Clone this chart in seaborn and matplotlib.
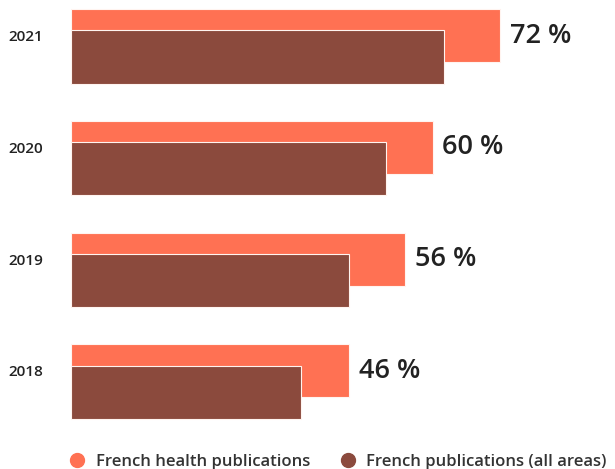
import matplotlib
matplotlib.use("Agg")
import matplotlib.pyplot as plt
import seaborn as sns
import pandas as pd
from matplotlib.lines import Line2D

years = ["2021", "2020", "2019", "2018"]
health = [72.0, 60.66, 56.0, 46.66]
all_areas = [62.55, 52.77, 46.56, 38.55]
value_labels = ["72 %", "60 %", "56 %", "46 %"]
series_names = ["French health publications", "French publications (all areas)"]
colors = ["#FF7153", "#8B4A3D"]

sns.set_theme(style="white")
plt.rcParams['font.family'] = ['Open Sans', 'DejaVu Sans']

df_h = pd.DataFrame({"year": years, "value": health})
df_a = pd.DataFrame({"year": years, "value": all_areas})

fig = plt.figure(figsize=(6.15, 4.69), dpi=100)
ax = fig.add_axes([71.3 / 615, 1 - 440 / 469, 1 - 71.3 / 615, 440 / 469])

bar_w = 0.475
shift = 0.19
sns.barplot(data=df_h, x="value", y="year", orient="h", color=colors[0],
            saturation=1, width=bar_w, edgecolor="#FFF4F0", linewidth=0.8,
            ax=ax, order=years)
n_h = len(ax.patches)
sns.barplot(data=df_a, x="value", y="year", orient="h", color=colors[1],
            saturation=1, width=bar_w, edgecolor="#FFF4F0", linewidth=0.8,
            ax=ax, order=years)
for p in ax.patches[n_h:]:
    p.set_y(p.get_y() + shift)

for i, (v, lab) in enumerate(zip(health, value_labels)):
    ax.annotate(lab, xy=(v, i), xytext=(7, 0), textcoords="offset points",
                ha="left", va="center", fontsize=19.5, fontweight="semibold",
                color="#222222")

ax.set_xlim(0, (615 - 71.3) / 5.958)
ax.set_ylim(-0.3205 + 440 / 111.7, -0.3205)
ax.set_xlabel("")
ax.set_ylabel("")
ax.set_xticks([])
ax.tick_params(axis="y", length=0, pad=20)
for t in ax.get_yticklabels():
    t.set_fontsize(11)
    t.set_fontweight("semibold")
    t.set_color("#222222")
for s in ax.spines.values():
    s.set_visible(False)

handles = [Line2D([0], [0], marker="o", linestyle="", markersize=10,
                  markerfacecolor=c, markeredgecolor=c) for c in colors]
leg = fig.legend(handles, series_names, loc="center left",
                 bbox_to_anchor=(54 / 615, 1 - 462 / 469), ncol=2, frameon=False,
                 handletextpad=0.6, columnspacing=1.75, handlelength=1.0,
                 prop={"size": 12, "weight": "semibold"})
for t in leg.get_texts():
    t.set_color("#333333")

fig.savefig("out.png", dpi=100)
